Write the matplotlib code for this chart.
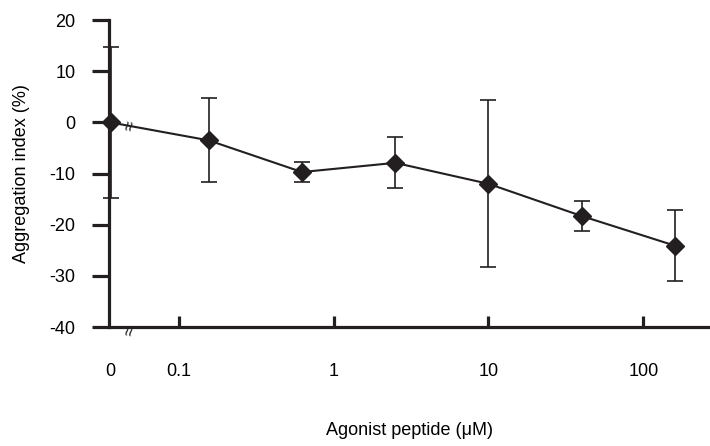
import numpy as np
import matplotlib.pyplot as plt

plt.rcParams['font.family'] = ['Liberation Sans', 'DejaVu Sans']
plt.rcParams['axes.unicode_minus'] = False

# data
conc = [0, 0.156, 0.625, 2.5, 10, 40, 160]
agg = [0.0, -3.5, -9.7, -7.9, -12.0, -18.3, -24.1]
err = [14.7, 8.2, 2.0, 5.0, 16.3, 3.0, 7.0]
tick_vals = [0, 0.1, 1, 10, 100]
tick_labels = ['0', '0.1', '1', '10', '100']
zero_pos = -1.44  # where "0" sits on the log axis

def to_x(v):
    return zero_pos if v == 0 else np.log10(v)

col = '#231f20'
fig = plt.figure(figsize=(7.10, 4.46), dpi=100)
ax = fig.add_axes([0.1535, 0.2668, 0.8465, 0.688])

xs = [to_x(c) for c in conc]
ax.errorbar(xs, agg, yerr=err, color=col, lw=1.5, marker='D', ms=9,
            mfc=col, mec=col, ecolor=col, elinewidth=1.2, capsize=6,
            capthick=1.2, zorder=3, clip_on=False)

ax.set_xlim(-1.45, 2.43)
ax.set_ylim(-40, 20)
ax.set_yticks(np.arange(-40, 21, 10))
ax.set_yticklabels([str(v) for v in range(-40, 21, 10)])
ax.set_xticks([to_x(v) for v in tick_vals])
ax.set_xticklabels(tick_labels)
ax.xaxis.get_major_ticks()[0].tick1line.set_visible(False)

for s in ['top', 'right']:
    ax.spines[s].set_visible(False)
for s in ['left', 'bottom']:
    ax.spines[s].set_linewidth(2.3)
    ax.spines[s].set_color(col)

ax.tick_params(axis='y', direction='out', length=12, width=2.3, color=col,
               pad=12, labelsize=13)
ax.tick_params(axis='x', direction='in', length=8, width=2.3, color=col,
               pad=26, labelsize=13)

ax.set_xlabel('Agonist peptide (\u03bcM)', fontsize=13, labelpad=30)
ax.set_ylabel('Aggregation index (%)', fontsize=13)
ax.yaxis.set_label_coords(-0.131, 0.5)

# axis break marks
ax.text(-1.31, -0.7, '\u2248', rotation=80, ha='center', va='center',
        fontsize=13, color=col)
ax.text(-1.31, -40.7, '\u2248', rotation=80, ha='center', va='center',
        fontsize=13, color=col, clip_on=False)

fig.savefig('out.png', dpi=100)
